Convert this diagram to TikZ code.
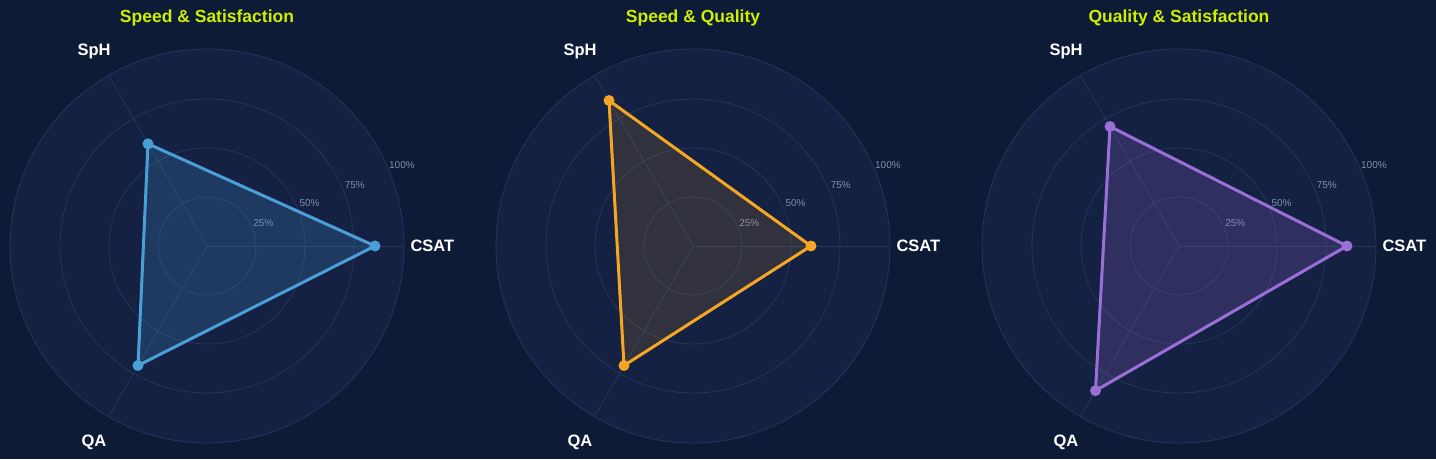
\documentclass[tikz,border=0pt]{standalone}
\usepackage{fontspec}
\setmainfont{Liberation Sans}
\definecolor{bg}{HTML}{0E1B36}
\definecolor{disc}{HTML}{142142}
\definecolor{grid}{HTML}{22375C}
\definecolor{ttl}{HTML}{CCF000}
\definecolor{tick}{HTML}{8090A8}
\definecolor{blueline}{HTML}{4A9FD8}
\definecolor{orangeline}{HTML}{F5A623}
\definecolor{purpleline}{HTML}{9B6FD8}
\tikzset{
  ring/.style={draw=grid,line width=0.8pt},
  spoke/.style={draw=grid,line width=0.8pt},
  ticklab/.style={text=tick,font=\fontsize{10}{11}\selectfont},
  axislab/.style={text=white,font=\fontsize{16.5}{18}\selectfont\bfseries},
  title/.style={text=ttl,font=\fontsize{17.5}{19}\selectfont\bfseries},
  dot/.style={circle,inner sep=0pt,minimum size=11pt}
}
% \radar{centre x}{id}{title}{colour}{fill opacity}{r csat}{r sph}{r qa}
\newcommand{\radar}[8]{
  \begin{scope}[shift={(#1,213)}]
    \fill[disc] (0,0) circle (197);
    \foreach \r in {49,98,147,197} \draw[ring] (0,0) circle (\r);
    \foreach \a in {0,120,240} \draw[spoke] (0,0) -- (\a:197);
    \node[ticklab] at (22.5:61) {25\%};
    \node[ticklab] at (22.5:111) {50\%};
    \node[ticklab] at (22.5:160) {75\%};
    \node[ticklab] at (22.5:211) {100\%};
    \node[title] (t#2) at (0,228) {#3};
    \node[axislab,anchor=west] (ac#2) at (200,0) {CSAT};
    \node[axislab] (as#2) at (-113,195) {SpH};
    \node[axislab] (aq#2) at (-113,-196) {QA};
    \node[dot,fill=#4] (c#2) at (0:#6) {};
    \node[dot,fill=#4] (s#2) at (120:#7) {};
    \node[dot,fill=#4] (q#2) at (240:#8) {};
    \fill[#4,opacity=#5] (c#2.center) -- (s#2.center) -- (q#2.center) -- cycle;
    \draw[#4,line width=3pt,line join=round] (c#2.center) -- (s#2.center) -- (q#2.center) -- cycle;
  \end{scope}
}
\begin{document}
\begin{tikzpicture}[x=1pt,y=1pt]
\fill[bg] (0,0) rectangle (1436,459);
\useasboundingbox (0,0) rectangle (1436,459);
\radar{207}{1}{Speed \& Satisfaction}{blueline}{0.2}{168}{118}{138}
\radar{693}{2}{Speed \& Quality}{orangeline}{0.13}{118}{168}{138}
\radar{1179}{3}{Quality \& Satisfaction}{purpleline}{0.2}{168}{138}{167}
\end{tikzpicture}
\end{document}
